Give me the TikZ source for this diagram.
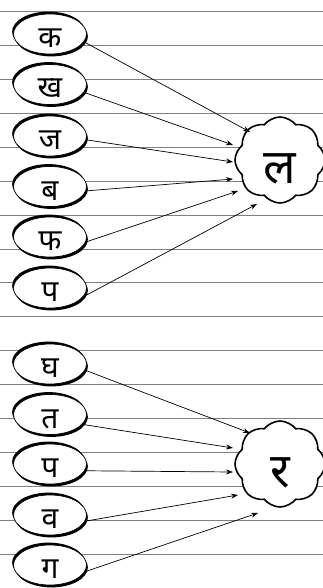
\documentclass[tikz,border=0pt]{standalone}
\usepackage{fontspec}
\newfontfamily\deva[Script=Devanagari]{Noto Sans}
\usetikzlibrary{shapes.geometric,shapes.symbols,shadows,calc,arrows.meta}
\begin{document}
\begin{tikzpicture}[x=1pt,y=-1pt,
  rule/.style={draw=black!50, line width=0.9pt},
  letterbox/.style={ellipse, draw=black, line width=0.7pt, fill=white,
     minimum width=73pt, minimum height=40pt, inner sep=0pt,
     text height=27pt, text depth=0pt,
     font=\deva\fontsize{30}{30}\selectfont,
     general shadow={shadow xshift=-1.4pt, shadow yshift=2.4pt, fill=black},
     general shadow={shadow xshift=1.4pt, shadow yshift=-2.4pt, fill=black}},
  puff/.style={cloud, cloud puffs=8, cloud puff arc=105, cloud ignores aspect,
     draw=black, line width=1.6pt, fill=white, minimum width=90pt, minimum height=86pt,
     inner sep=0pt, text height=46pt, text depth=0pt,
     font=\deva\fontsize{48}{48}\selectfont},
  link/.style={-{Stealth[length=7pt,width=5pt]}, line width=0.7pt}]
\useasboundingbox (0,0) rectangle (323,588);
\foreach \i in {0,...,16} \draw[rule] (0,11.7+33.9*\i) -- (323,11.7+33.9*\i);

\node[letterbox] (k)  at (50,34)    {क};
\node[letterbox] (kh) at (50,84.5)  {ख};
\node[letterbox] (j)  at (50,136)   {ज};
\node[letterbox] (b)  at (50,186.5) {ब};
\node[letterbox] (ph) at (50,237)   {फ};
\node[letterbox] (p)  at (50,288)   {प};

\node[letterbox] (gh) at (50,364)   {घ};
\node[letterbox] (t)  at (50,414.5) {त};
\node[letterbox] (p2) at (50,464)   {प};
\node[letterbox] (v)  at (50,515)   {व};
\node[letterbox] (g)  at (50,565)   {ग};

\node[puff] (L) at (280,160) {ल};
\node[puff] (R) at (280,464) {र};

\draw[link] (k.-13)  -- ($(L.center)+(-30,-28)$);
\draw[link] (kh.-13) -- ($(L.center)+(-47,-15)$);
\draw[link] (j.-6)   -- ($(L.center)+(-47,2)$);
\draw[link] (b.-7)   -- ($(L.center)+(-47,19)$);
\draw[link] (ph.-8)  -- ($(L.center)+(-42,31)$);
\draw[link] (p.-15)  -- ($(L.center)+(-23,44)$);

\draw[link] (gh.-10) -- ($(R.center)+(-30,-31)$);
\draw[link] (t.-17)  -- ($(R.center)+(-47,-16)$);
\draw[link] (p2.-11) -- ($(R.center)+(-47,8)$);
\draw[link] (v.-10)  -- ($(R.center)+(-42,31)$);
\draw[link] (g.-11)  -- ($(R.center)+(-22,49)$);
\end{tikzpicture}
\end{document}
